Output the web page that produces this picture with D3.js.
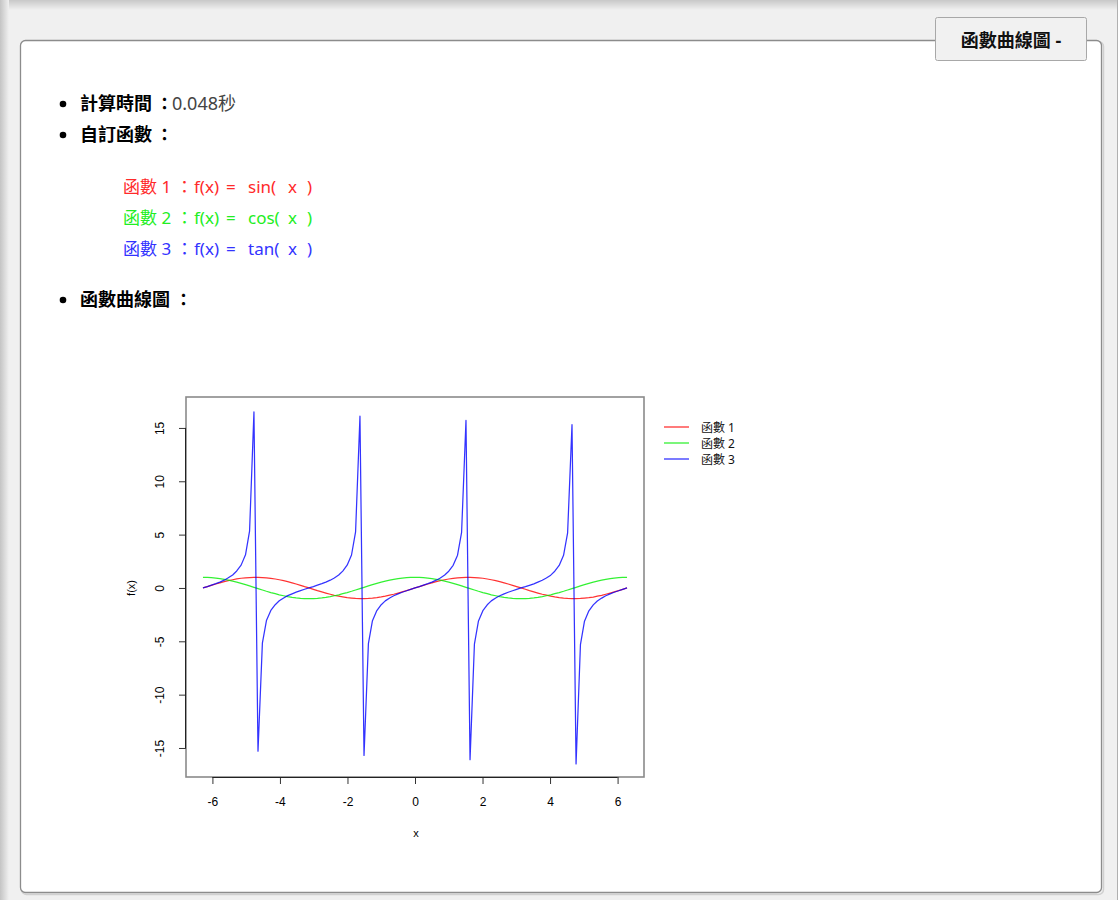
<!DOCTYPE html>
<html>
<head>
<meta charset="utf-8">
<script src="https://cdn.jsdelivr.net/npm/d3@7"></script>
<style>
html,body{margin:0;padding:0;background:#f0f0f0;}
svg{display:block;}
</style>
</head>
<body>
<svg id="page" width="1118" height="900"></svg>
<script>
// ---------- data ----------
const seriesNames = ["函數 1", "函數 2", "函數 3"];
const seriesColors = ["#ff0000", "#00ee00", "#0000ff"];
const funcNames = ["sin(", "cos(", "tan("];
const textColors = ["#ff2a2a", "#22ee22", "#3333ff"];
const xTicks = [-6, -4, -2, 0, 2, 4, 6];
const yTicks = [-15, -10, -5, 0, 5, 10, 15];
const calcTime = "0.048秒";

const xs = [-6.28,-6.15,-6.03,-5.90,-5.78,-5.65,-5.53,-5.40,-5.28,-5.15,
 -5.02,-4.90,-4.77,-4.65,-4.52,-4.40,-4.27,-4.14,-4.02,-3.89,
 -3.77,-3.64,-3.52,-3.39,-3.27,-3.14,-3.01,-2.89,-2.76,-2.64,
 -2.51,-2.39,-2.26,-2.14,-2.01,-1.88,-1.76,-1.63,-1.51,-1.38,
 -1.26,-1.13,-1.00,-0.88,-0.75,-0.63,-0.50,-0.38,-0.25,-0.13,
 0,
 0.13,0.25,0.38,0.50,0.63,0.75,0.88,1.00,1.13,1.26,
 1.38,1.51,1.63,1.76,1.88,2.01,2.14,2.26,2.39,2.51,
 2.64,2.76,2.89,3.01,3.14,3.27,3.39,3.52,3.64,3.77,
 3.89,4.02,4.14,4.27,4.40,4.52,4.65,4.77,4.90,5.02,
 5.15,5.28,5.40,5.53,5.65,5.78,5.90,6.03,6.15,6.28];

const sinVals = [0.00,0.13,0.25,0.37,0.48,0.59,0.69,0.77,0.85,0.91,
 0.95,0.98,1.00,1.00,0.98,0.95,0.90,0.84,0.77,0.68,
 0.59,0.48,0.37,0.25,0.12,0.00,-0.13,-0.25,-0.37,-0.48,
 -0.59,-0.69,-0.77,-0.84,-0.91,-0.95,-0.98,-1.00,-1.00,-0.98,
 -0.95,-0.90,-0.84,-0.77,-0.68,-0.59,-0.48,-0.37,-0.25,-0.13,
 0.00,
 0.13,0.25,0.37,0.48,0.59,0.68,0.77,0.84,0.90,0.95,
 0.98,1.00,1.00,0.98,0.95,0.91,0.84,0.77,0.69,0.59,
 0.48,0.37,0.25,0.13,0.00,-0.12,-0.25,-0.37,-0.48,-0.59,
 -0.68,-0.77,-0.84,-0.90,-0.95,-0.98,-1.00,-1.00,-0.98,-0.95,
 -0.91,-0.85,-0.77,-0.69,-0.59,-0.48,-0.37,-0.25,-0.13,0.00];

const cosVals = [1.00,0.99,0.97,0.93,0.88,0.81,0.73,0.64,0.54,0.43,
 0.31,0.19,0.06,-0.06,-0.19,-0.31,-0.43,-0.54,-0.64,-0.73,
 -0.81,-0.88,-0.93,-0.97,-0.99,-1.00,-0.99,-0.97,-0.93,-0.88,
 -0.81,-0.73,-0.64,-0.54,-0.43,-0.31,-0.19,-0.06,0.06,0.19,
 0.31,0.43,0.54,0.64,0.73,0.81,0.88,0.93,0.97,0.99,
 1.00,
 0.99,0.97,0.93,0.88,0.81,0.73,0.64,0.54,0.43,0.31,
 0.19,0.06,-0.06,-0.19,-0.31,-0.43,-0.54,-0.64,-0.73,-0.81,
 -0.88,-0.93,-0.97,-0.99,-1.00,-0.99,-0.97,-0.93,-0.88,-0.81,
 -0.73,-0.64,-0.54,-0.43,-0.31,-0.19,-0.06,0.06,0.19,0.31,
 0.43,0.54,0.64,0.73,0.81,0.88,0.93,0.97,0.99,1.00];

const tanVals = [0.00,0.13,0.26,0.40,0.55,0.73,0.95,1.22,1.59,2.14,
 3.11,5.32,16.5,-15.3,-5.17,-3.06,-2.11,-1.57,-1.20,-0.94,
 -0.72,-0.55,-0.39,-0.25,-0.12,0.00,0.13,0.26,0.40,0.55,
 0.73,0.94,1.21,1.58,2.13,3.09,5.26,16.1,-15.7,-5.22,
 -3.07,-2.12,-1.57,-1.21,-0.94,-0.73,-0.55,-0.40,-0.26,-0.13,
 0.00,
 0.13,0.26,0.40,0.55,0.73,0.94,1.21,1.57,2.12,3.07,
 5.22,15.7,-16.1,-5.26,-3.09,-2.13,-1.58,-1.21,-0.94,-0.73,
 -0.55,-0.40,-0.26,-0.13,0.00,0.12,0.25,0.39,0.55,0.72,
 0.94,1.20,1.57,2.11,3.06,5.17,15.3,-16.5,-5.32,-3.11,
 -2.14,-1.59,-1.22,-0.95,-0.73,-0.55,-0.40,-0.26,-0.13,0.00];

const series = [sinVals, cosVals, tanVals];

// ---------- page frame ----------
const svg = d3.select("#page");
const cjk = "'Noto Sans', 'Noto Sans CJK TC', sans-serif";
const defs = svg.append("defs");
const gl = defs.append("linearGradient").attr("id","gl").attr("x1","0").attr("x2","1").attr("y1","0").attr("y2","0");
gl.append("stop").attr("offset","0").attr("stop-color","#c4c4c4");
gl.append("stop").attr("offset","1").attr("stop-color","#f0f0f0");
const gt = defs.append("linearGradient").attr("id","gt").attr("x1","0").attr("x2","0").attr("y1","0").attr("y2","1");
gt.append("stop").attr("offset","0").attr("stop-color","#c8c8c8");
gt.append("stop").attr("offset","1").attr("stop-color","#f0f0f0");

svg.append("rect").attr("width",1118).attr("height",900).attr("fill","#f0f0f0");
svg.append("rect").attr("x",0).attr("y",0).attr("width",1118).attr("height",10).attr("fill","url(#gt)");
svg.append("rect").attr("x",0).attr("y",0).attr("width",9).attr("height",900).attr("fill","url(#gl)");
svg.append("line").attr("x1",1117.5).attr("x2",1117.5).attr("y1",0).attr("y2",900).attr("stroke","#b0b0b0");

// panel shadow + panel
svg.append("rect").attr("x",21.5).attr("y",41.5).attr("width",1082).attr("height",853).attr("rx",5)
  .attr("fill","none").attr("stroke","#d0d0d0").attr("stroke-width",1.5);
svg.append("rect").attr("x",20.5).attr("y",40.5).attr("width",1081).attr("height",852).attr("rx",5)
  .attr("fill","#ffffff").attr("stroke","#8c8c8c").attr("stroke-width",1.3);

// tab
svg.append("rect").attr("x",935.5).attr("y",17.5).attr("width",151).attr("height",43).attr("rx",2)
  .attr("fill","#f1f1f1").attr("stroke","#a8a8a8").attr("stroke-width",1);
svg.append("text").attr("x",1011).attr("y",40).attr("text-anchor","middle").attr("dominant-baseline","central")
  .attr("font-family",cjk).attr("font-weight","bold").attr("font-size",18).attr("fill","#111")
  .text("函數曲線圖 -");

// bullets
const bulletYs = [103, 134, 299];
svg.selectAll("circle.bullet").data(bulletYs).enter().append("circle")
  .attr("cx",63).attr("cy",d=>d+1).attr("r",3.3).attr("fill","#000");

function boldLabel(yy, label, colonX){
  const t = svg.append("text").attr("y",yy).attr("dominant-baseline","central")
    .attr("font-family",cjk).attr("font-size",18).attr("font-weight","bold").attr("fill","#000");
  t.append("tspan").attr("x",80).text(label);
  t.append("tspan").attr("x",colonX).attr("font-size",17).text("：");
  return t;
}
const t1 = boldLabel(103, "計算時間", 156);
t1.append("tspan").attr("x",172).attr("font-weight","normal").attr("fill","#444").text(calcTime);
boldLabel(134, "自訂函數", 156);
boldLabel(299, "函數曲線圖", 175);

const fnG = svg.selectAll("text.fn").data(seriesNames).enter().append("text").attr("class","fn")
  .attr("y",(d,i)=>186+i*31).attr("dominant-baseline","central")
  .attr("font-family",cjk).attr("font-size",17).attr("fill",(d,i)=>textColors[i]);
fnG.append("tspan").attr("x",123).text(d=>d);
fnG.append("tspan").attr("x",176).text("：");
fnG.append("tspan").attr("x",194).text("f(x)");
fnG.append("tspan").attr("x",226).text("=");
fnG.append("tspan").attr("x",248).text((d,i)=>funcNames[i]);
fnG.append("tspan").attr("x",288).text("x");
fnG.append("tspan").attr("x",307).text(")");

// ---------- chart ----------
const box = {left:186, right:644, top:397, bottom:777};
const x = d3.scaleLinear().domain([-6.7824, 6.7824]).range([box.left, box.right]);
const y = d3.scaleLinear().domain([-17.72, 17.9]).range([box.bottom, box.top]);
const rfont = "'Liberation Sans', Arial, sans-serif";

svg.append("rect").attr("x",box.left).attr("y",box.top).attr("width",box.right-box.left).attr("height",box.bottom-box.top)
  .attr("fill","none").attr("stroke","#8a8a8a").attr("stroke-width",1.6);

const clip = defs.append("clipPath").attr("id","plotclip");
clip.append("rect").attr("x",box.left).attr("y",box.top).attr("width",box.right-box.left).attr("height",box.bottom-box.top);

const line = d3.line().x((d,i)=>x(xs[i])).y(d=>y(d));
svg.append("g").attr("clip-path","url(#plotclip)").selectAll("path.series").data(series).enter().append("path")
  .attr("fill","none").attr("stroke",(d,i)=>seriesColors[i]).attr("stroke-width",1.25)
  .attr("stroke-linejoin","round").attr("stroke-opacity",0.8)
  .attr("d",d=>line(d));

// x axis
const xAxis = d3.axisBottom(x).tickValues(xTicks).tickSize(7).tickSizeOuter(0).tickFormat(d3.format("d"));
const gx = svg.append("g").attr("transform",`translate(0,${box.bottom})`).call(xAxis);
gx.select(".domain").remove();
gx.selectAll(".tick line").attr("stroke","#333");
gx.selectAll(".tick text").attr("font-family",rfont).attr("font-size",12).attr("fill","#000")
  .attr("y",25).attr("dy","0").attr("dominant-baseline","central").text(d=>d<0?"-"+Math.abs(d):d);
svg.append("line").attr("x1",x(xTicks[0])).attr("x2",x(xTicks[xTicks.length-1]))
  .attr("y1",box.bottom+0.5).attr("y2",box.bottom+0.5).attr("stroke","#222");

// y axis
const yAxis = d3.axisLeft(y).tickValues(yTicks).tickSize(7).tickSizeOuter(0);
const gy = svg.append("g").attr("transform",`translate(${box.left},0)`).call(yAxis);
gy.select(".domain").remove();
gy.selectAll(".tick line").attr("stroke","#333");
gy.selectAll(".tick text").remove();
gy.selectAll(".tick").append("text")
  .attr("transform","translate(-26,0) rotate(-90)")
  .attr("text-anchor","middle").attr("dominant-baseline","central")
  .attr("font-family",rfont).attr("font-size",12).attr("fill","#000")
  .text(d=>d<0?"-"+Math.abs(d):d);
svg.append("line").attr("x1",box.left-0.5).attr("x2",box.left-0.5)
  .attr("y1",y(yTicks[0])).attr("y2",y(yTicks[yTicks.length-1])).attr("stroke","#222");

// axis titles
svg.append("text").attr("x",x(0)+1).attr("y",833).attr("text-anchor","middle").attr("dominant-baseline","central")
  .attr("font-family",rfont).attr("font-size",11).attr("fill","#000").text("x");
svg.append("text").attr("transform",`translate(131,${y(0)}) rotate(-90)`).attr("text-anchor","middle")
  .attr("dominant-baseline","central").attr("font-family",rfont).attr("font-size",11).attr("fill","#000").text("f(x)");

// legend
const lg = svg.append("g");
seriesNames.forEach((n,i)=>{
  const ly = 427 + i*16;
  lg.append("line").attr("x1",664).attr("x2",689).attr("y1",ly).attr("y2",ly)
    .attr("stroke",seriesColors[i]).attr("stroke-width",1.3).attr("stroke-opacity",0.8);
  lg.append("text").attr("x",701).attr("y",ly).attr("dominant-baseline","central")
    .attr("font-family",cjk).attr("font-size",12).attr("fill","#111").text(n);
});
</script>
</body>
</html>
